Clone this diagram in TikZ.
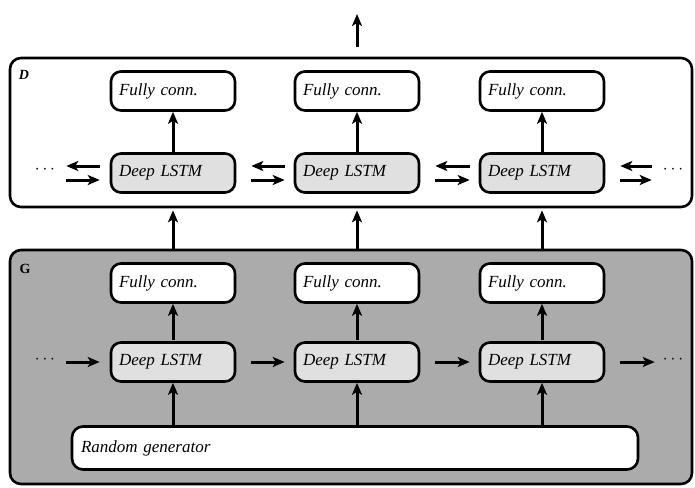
\documentclass[tikz,border=0pt]{standalone}
\usepackage{fontspec}
\setmainfont{Liberation Serif}
\usetikzlibrary{arrows.meta}
\begin{document}
\begin{tikzpicture}[x=1pt,y=-1pt,
  arr/.style={line width=3pt,-{Stealth[length=12pt,width=10pt,inset=3pt]}},
  bigbox/.style={draw,line width=2.6pt,rounded corners=11pt,minimum width=682pt,inner sep=0pt},
  unit/.style={draw,line width=2.6pt,rounded corners=10pt,minimum width=124pt,minimum height=39pt,
    text width=108pt,align=left,inner xsep=8pt,font=\fontsize{17}{19}\selectfont\itshape},
  lstm/.style={unit,fill=black!12},
  fc/.style={unit,fill=white},
  dots/.style={font=\fontsize{17}{19}\selectfont,inner sep=0pt}]
\useasboundingbox (0,0) rectangle (695,487);
% big boxes
\node[bigbox,fill=white,minimum height=149pt] (Dbox) at (351,132.5) {};
\node[bigbox,fill=black!33,minimum height=234pt] (Gbox) at (351,367) {};
\node[font=\fontsize{14}{16}\selectfont\bfseries\itshape] (Dlab) at (24,75) {D};
\node[font=\fontsize{14}{16}\selectfont\bfseries] (Glab) at (25,269) {G};
% units
\foreach \i/\x in {1/173,2/357,3/542}{
  \node[fc] (DF\i) at (\x,91) {Fully conn.};
  \node[lstm] (DL\i) at (\x,173) {Deep LSTM};
  \node[fc] (GF\i) at (\x,283) {Fully conn.};
  \node[lstm] (GL\i) at (\x,362) {Deep LSTM};
}
\node[draw,line width=2.6pt,rounded corners=11pt,fill=white,minimum width=566pt,minimum height=43pt,
  text width=548pt,align=left,inner xsep=9pt,font=\fontsize{17}{19}\selectfont\itshape] (RG) at (355,448) {Random generator};
% dots
\node[dots] (DdL) at (45,170) {$\cdots$};
\node[dots] (DdR) at (673,170) {$\cdots$};
\node[dots] (GdL) at (45,360) {$\cdots$};
\node[dots] (GdR) at (673,360) {$\cdots$};
\coordinate (top) at (357,14);
% vertical arrows
\foreach \i in {1,2,3}{
  \draw[arr] (DL\i.north) -- (DF\i.south);
  \draw[arr,shorten <=1pt] (GL\i.north) -- (GF\i.south);
  \draw[arr] (RG.north -| GL\i.south) -- (GL\i.south);
  \draw[arr,shorten >=2pt] (Gbox.north -| GF\i.north) -- (Dbox.south -| GF\i.north);
}
\draw[arr,shorten <=10pt] (Dbox.north -| top) -- (top);
% D bidirectional arrows
\draw[arr,shorten <=9pt,shorten >=15pt] ([yshift=7pt]DL2.west) -- ([yshift=7pt]DL1.east);
\draw[arr,shorten <=15pt,shorten >=9pt] ([yshift=-7pt]DL1.east) -- ([yshift=-7pt]DL2.west);
\draw[arr,shorten <=9pt,shorten >=15pt] ([yshift=7pt]DL3.west) -- ([yshift=7pt]DL2.east);
\draw[arr,shorten <=15pt,shorten >=9pt] ([yshift=-7pt]DL2.east) -- ([yshift=-7pt]DL3.west);
\draw[arr,shorten <=10pt,shorten >=11pt] ([yshift=7pt]DL1.west) -- ([yshift=7pt]DL1.west -| DdL.east);
\draw[arr,shorten <=11pt,shorten >=10pt] ([yshift=-7pt]DL1.west -| DdL.east) -- ([yshift=-7pt]DL1.west);
\draw[arr,shorten <=11pt,shorten >=15pt] ([yshift=7pt]DL3.east -| DdR.west) -- ([yshift=7pt]DL3.east);
\draw[arr,shorten <=15pt,shorten >=11pt] ([yshift=-7pt]DL3.east) -- ([yshift=-7pt]DL3.east -| DdR.west);
% G forward arrows
\draw[arr,shorten <=11pt,shorten >=10pt] (GL1.west -| GdL.east) -- (GL1.west);
\draw[arr,shorten <=15pt,shorten >=9pt] (GL1.east) -- (GL2.west);
\draw[arr,shorten <=15pt,shorten >=9pt] (GL2.east) -- (GL3.west);
\draw[arr,shorten <=15pt,shorten >=8pt] (GL3.east) -- (GL3.east -| GdR.west);
\end{tikzpicture}
\end{document}
